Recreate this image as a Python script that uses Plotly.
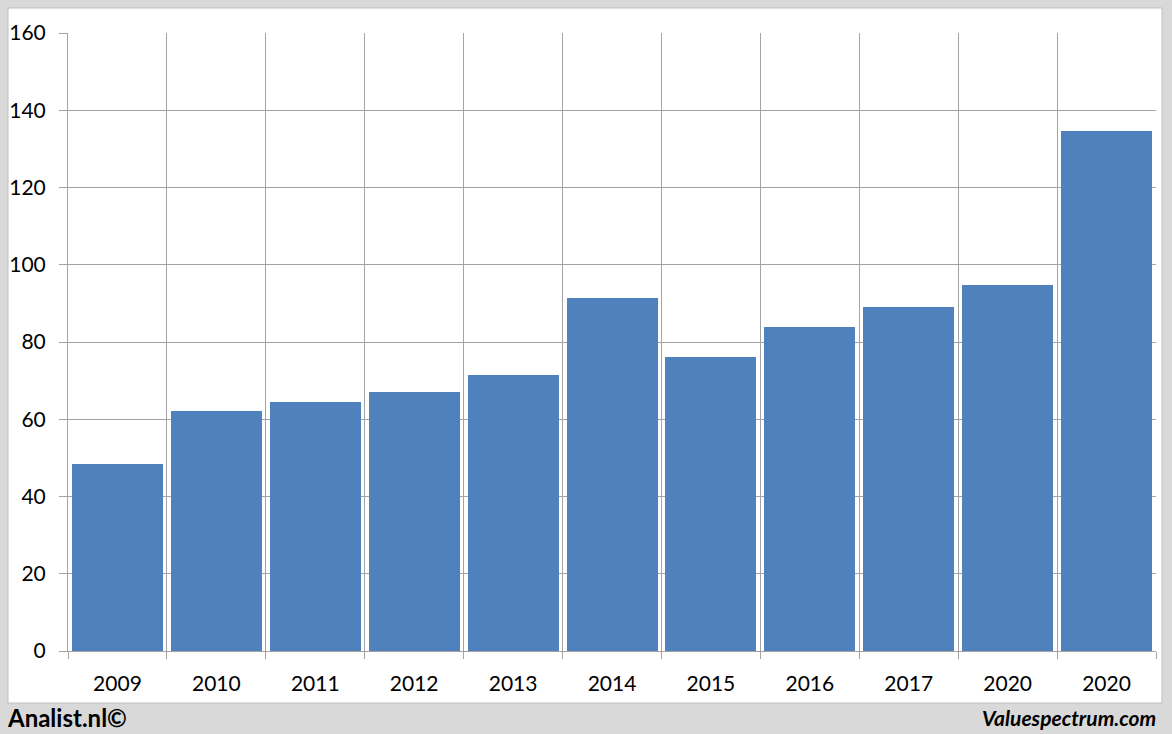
import plotly.graph_objects as go

categories = ["2009", "2010", "2011", "2012", "2013", "2014", "2015", "2016", "2017", "2020", "2020"]
values = [48.4, 62.1, 64.5, 67.1, 71.5, 91.4, 76.1, 83.9, 89.1, 94.8, 134.6]
y_ticks = [0, 20, 40, 60, 80, 100, 120, 140, 160]

positions = list(range(len(categories)))
boundaries = [p - 0.5 for p in positions] + [positions[-1] + 0.5]

W, H = 1172, 734
L, R, T, B = 68, 16, 33, 83
pw, ph = W - L - R, H - T - B

def px(x):
    return (x - L) / pw

def py(y):
    return (H - B - y) / ph

grid = "#a3a3a3"
font_fam = "Lato, Calibri, Carlito, sans-serif"

fig = go.Figure()
fig.add_trace(go.Bar(
    x=positions, y=values, width=0.92,
    marker=dict(color="#4F81BD", line=dict(width=0)),
    hoverinfo="skip",
))

fig.update_layout(
    width=W, height=H,
    margin=dict(l=L, r=R, t=T, b=B, autoexpand=False),
    paper_bgcolor="#d9d9d9",
    plot_bgcolor="white",
    showlegend=False,
    bargap=0,
    font=dict(family=font_fam, size=20, color="black"),
    xaxis=dict(
        range=[-0.5, len(categories) - 0.5],
        tickmode="array", tickvals=positions, ticktext=categories,
        showgrid=False, ticks="", showline=True, linecolor=grid, linewidth=1,
        tickfont=dict(size=21), ticklabelstandoff=14, automargin=False,
        minor=dict(tickmode="array", tickvals=boundaries, showgrid=True,
                   gridcolor=grid, gridwidth=1, ticks="outside", ticklen=7,
                   tickcolor=grid),
        zeroline=False, fixedrange=True,
    ),
    yaxis=dict(
        range=[0, 160], tickmode="array", tickvals=y_ticks,
        showgrid=True, gridcolor=grid, gridwidth=1,
        ticks="outside", ticklen=8, tickcolor=grid,
        showline=True, linecolor=grid, linewidth=1,
        tickfont=dict(size=21), ticklabelstandoff=9, automargin=False,
        zeroline=False, fixedrange=True,
    ),
    shapes=[dict(
        type="rect", xref="paper", yref="paper", layer="below",
        x0=px(8), x1=px(1162), y0=py(703), y1=py(8),
        fillcolor="white", line=dict(color="#bfbfbf", width=1),
    )],
    annotations=[
        dict(text="<b>Analist.nl©</b>", xref="paper", yref="paper",
             x=px(5), y=py(717), xanchor="left", yanchor="middle",
             showarrow=False, font=dict(family=font_fam, size=24, color="black")),
        dict(text="<b><i>Valuespectrum.com</i></b>", xref="paper", yref="paper",
             x=px(1158), y=py(717), xanchor="right", yanchor="middle",
             showarrow=False, font=dict(family=font_fam, size=21, color="black")),
    ],
)

fig.write_html(
    "out.html",
    config={"displayModeBar": False},
    post_script="document.body.style.margin='0';document.body.style.padding='0';document.body.style.overflow='hidden';",
)
